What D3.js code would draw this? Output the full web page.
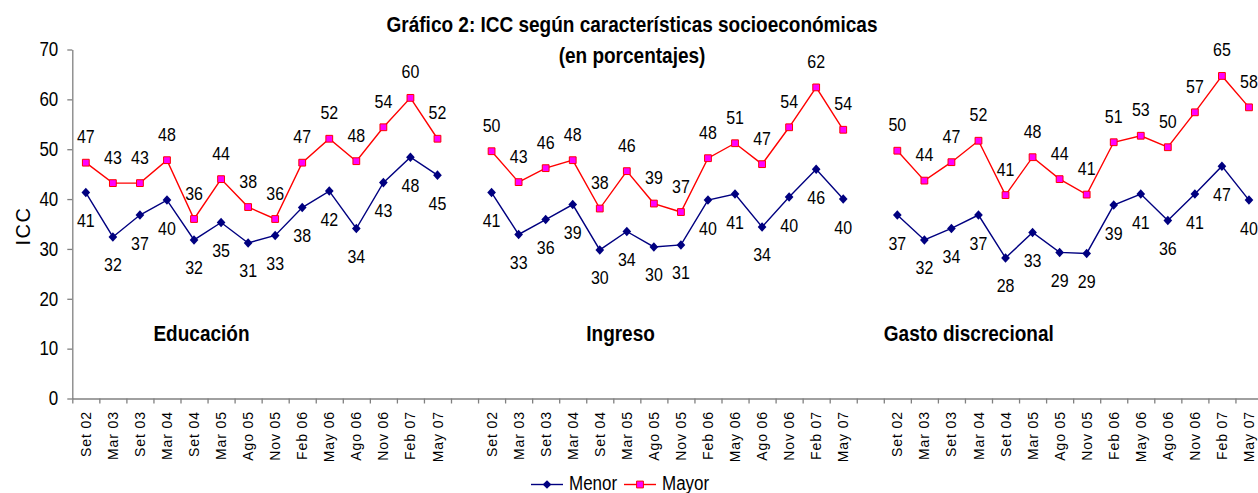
<!DOCTYPE html>
<html>
<head>
<meta charset="utf-8">
<script src="https://cdn.jsdelivr.net/npm/d3@7"></script>
<style>
  body { margin: 0; background: #fff; }
  svg { display: block; font-family: "Liberation Sans", Arial, sans-serif; }
</style>
</head>
<body>
<div id="chart"></div>
<script>
const categories = ['Set 02', 'Mar 03', 'Set 03', 'Mar 04', 'Set 04', 'Mar 05', 'Ago 05',
  'Nov 05', 'Feb 06', 'May 06', 'Ago 06', 'Nov 06', 'Feb 07', 'May 07']
const panels = ['Educación', 'Ingreso', 'Gasto discrecional']
const seriesNames = ['Menor', 'Mayor']

const educMenor = [41.3, 32.4, 36.8, 39.8, 31.8, 35.3, 31.2, 32.7, 38.3, 41.6, 34.1, 43.3, 48.4, 44.8]
const educMayor = [47.3, 43.2, 43.2, 47.8, 36.0, 44.0, 38.4, 36.0, 47.3, 52.1, 47.6, 54.4, 60.3, 52.1]
const ingMenor = [41.3, 32.9, 35.9, 38.9, 29.8, 33.5, 30.4, 30.8, 39.8, 41.0, 34.4, 40.4, 46.0, 40.0]
const ingMayor = [49.6, 43.4, 46.2, 47.8, 38.1, 45.6, 39.1, 37.4, 48.2, 51.2, 47.0, 54.4, 62.4, 53.9]
const gasMenor = [36.8, 31.8, 34.1, 36.8, 28.2, 33.3, 29.3, 29.1, 38.8, 41.0, 35.7, 41.0, 46.6, 39.8]
const gasMayor = [49.7, 43.7, 47.4, 51.7, 40.8, 48.4, 44.0, 40.9, 51.4, 52.7, 50.4, 57.4, 64.7, 58.4]

const yTicks = [0, 10, 20, 30, 40, 50, 60, 70]

const W = 1258
const H = 493
const STRETCH = 1.15 // the original image text is taller than wide
const NAVY = '#000080'
const RED = '#ff0000'
const PINK = '#ff00ff'
const GREY = '#808080'

const menor = [educMenor, ingMenor, gasMenor]
const mayor = [educMayor, ingMayor, gasMayor]
const slots = categories.length + 1 // one empty slot between panels
const nBands = panels.length * slots - 1

const left = 72.3
const band = 27.05
const x = d3.scaleBand().domain(d3.range(nBands)).range([left, left + nBands * band])
const xl = d3.scaleLinear().domain([0, nBands]).range(x.range())
const y = d3.scaleLinear().domain([0, 70]).range([398.5, 49.5])

const svg = d3.select('#chart').append('svg')
  .attr('width', W)
  .attr('height', H)

function stretchText (g, tx, ty, str) {
  return g.append('text')
    .attr('transform', `translate(${tx},${ty}) scale(1,${STRETCH})`)
    .text(str)
}

// title
const title = svg.append('g')
  .attr('font-size', 19)
  .attr('font-weight', 'bold')
  .attr('text-anchor', 'middle')
stretchText(title, 632, 32, 'Gráfico 2: ICC según características socioeconómicas')
stretchText(title, 632, 63, '(en porcentajes)')

// y axis
const yAxis = svg.append('g')
  .attr('transform', `translate(${left},0)`)
  .call(d3.axisLeft(y).tickValues(yTicks).tickSize(5).tickSizeOuter(0).tickPadding(9))
yAxis.select('.domain').attr('stroke', GREY).attr('stroke-width', 1.3)
yAxis.selectAll('.tick line').attr('stroke', GREY).attr('stroke-width', 1.3)
yAxis.selectAll('.tick text')
  .attr('font-size', 17)
  .attr('fill', '#000')
  .attr('font-family', null)
  .attr('transform', `scale(1,${STRETCH})`)

svg.append('text')
  .attr('transform', 'translate(29.5,226) rotate(-90)')
  .attr('text-anchor', 'middle')
  .attr('font-size', 20)
  .attr('letter-spacing', 1.5)
  .text('ICC')

// x axis: ticks on the band edges, labels at the band centres
const xAxis = svg.append('g')
  .attr('transform', `translate(0,${y(0)})`)
  .call(d3.axisBottom(xl).tickValues(d3.range(nBands + 1)).tickSize(5).tickSizeOuter(0).tickFormat(''))
xAxis.select('.domain').attr('stroke', GREY).attr('stroke-width', 1.3)
xAxis.selectAll('.tick line').attr('stroke', GREY).attr('stroke-width', 1.3)

const xLabels = svg.append('g')
  .attr('transform', `translate(0,${y(0)})`)
  .call(d3.axisBottom(x).tickSize(0).tickFormat(i => (i % slots) < categories.length ? categories[i % slots] : ''))
xLabels.select('.domain').remove()
xLabels.selectAll('.tick text')
  .attr('font-family', null)
  .attr('font-size', 14)
  .attr('fill', '#000')
  .attr('letter-spacing', 0.9)
  .attr('transform', 'rotate(-90)')
  .attr('text-anchor', 'end')
  .attr('x', -12.5)
  .attr('y', 0)
  .attr('dy', '0.36em')

// series
const line = d3.line()
  .x(d => x(d.i) + x.bandwidth() / 2)
  .y(d => y(d.v))

const diamond = d3.symbol(d3.symbolDiamond2, 48)
const square = d3.symbol(d3.symbolSquare, 46)

panels.forEach((name, p) => {
  const lo = menor[p].map((v, k) => ({ i: p * slots + k, v }))
  const hi = mayor[p].map((v, k) => ({ i: p * slots + k, v }))
  const g = svg.append('g')

  g.append('path').datum(hi)
    .attr('fill', 'none').attr('stroke', RED).attr('stroke-width', 1.4)
    .attr('d', line)
  g.append('path').datum(lo)
    .attr('fill', 'none').attr('stroke', NAVY).attr('stroke-width', 1.4)
    .attr('d', line)

  g.selectAll('.sq').data(hi).join('path')
    .attr('class', 'sq')
    .attr('transform', d => `translate(${line.x()(d)},${y(d.v)})`)
    .attr('d', square)
    .attr('fill', PINK).attr('stroke', RED).attr('stroke-width', 1)
  g.selectAll('.dm').data(lo).join('path')
    .attr('class', 'dm')
    .attr('transform', d => `translate(${line.x()(d)},${y(d.v)}) scale(1,1.1)`)
    .attr('d', diamond)
    .attr('fill', NAVY)

  const labels = g.append('g').attr('font-size', 16).attr('text-anchor', 'middle')
  hi.forEach(d => stretchText(labels, line.x()(d), y(d.v) - 19.5, Math.round(d.v)))
  lo.forEach(d => stretchText(labels, line.x()(d), y(d.v) + 34.5, Math.round(d.v)))

  const pl = svg.append('g').attr('font-size', 19).attr('font-weight', 'bold')
  const startBand = [3, 19, 30][p]
  stretchText(pl, x(startBand), y(13) + 7.5, name)
})

// legend
const legend = svg.append('g').attr('font-size', 17)
const legendY = 484.5
const legendItems = [
  { name: seriesNames[0], x0: 531, color: NAVY, shape: diamond, fill: NAVY },
  { name: seriesNames[1], x0: 624, color: RED, shape: square, fill: PINK }
]
legendItems.forEach(it => {
  legend.append('line')
    .attr('x1', it.x0).attr('x2', it.x0 + 32)
    .attr('y1', legendY).attr('y2', legendY)
    .attr('stroke', it.color).attr('stroke-width', 1.4)
  legend.append('path')
    .attr('transform', `translate(${it.x0 + 16},${legendY})`)
    .attr('d', it.shape)
    .attr('fill', it.fill)
    .attr('stroke', it.shape === square ? RED : 'none')
  stretchText(legend, it.x0 + 38, legendY + 5.5, it.name)
})
</script>
</body>
</html>
